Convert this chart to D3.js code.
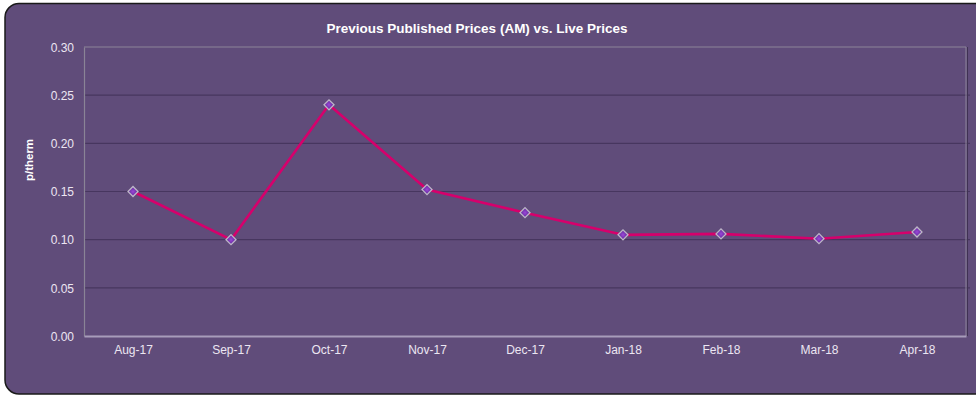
<!DOCTYPE html>
<html>
<head>
<meta charset="utf-8">
<script src="https://cdn.jsdelivr.net/npm/d3@7"></script>
<style>
  html, body { margin: 0; padding: 0; background: #ffffff; }
  svg { display: block; font-family: Arial, "Liberation Sans", sans-serif; }
</style>
</head>
<body>
<svg id="chart" width="976" height="396"></svg>
<script>
// Monthly prices in p/therm
const months = ["Aug-17", "Sep-17", "Oct-17", "Nov-17", "Dec-17", "Jan-18", "Feb-18", "Mar-18", "Apr-18"];
const prices = [0.150, 0.100, 0.240, 0.152, 0.128, 0.105, 0.106, 0.101, 0.108];
const yTicks = [0.00, 0.05, 0.10, 0.15, 0.20, 0.25, 0.30];
const title = "Previous Published Prices (AM) vs. Live Prices";
const yTitle = "p/therm";

const svg = d3.select("#chart");
const plot = { left: 84, right: 966, top: 47, bottom: 336 };

// Rounded panel behind everything (runs past the right edge)
svg.append("rect")
  .attr("x", 5).attr("y", 3.5)
  .attr("width", 990).attr("height", 390.5)
  .attr("rx", 14).attr("ry", 14)
  .attr("fill", "#604c7a")
  .attr("stroke", "#1a1a1a")
  .attr("stroke-width", 1.5);

const x = d3.scalePoint().domain(months).range([plot.left, plot.right]).padding(0.5);
const y = d3.scaleLinear().domain([0, 0.30]).range([plot.bottom, plot.top]);

// Horizontal gridlines
svg.append("g")
  .selectAll("line")
  .data(yTicks.filter(t => t > 0 && t < 0.30))
  .join("line")
  .attr("x1", plot.left).attr("x2", plot.right + 4)
  .attr("y1", d => y(d)).attr("y2", d => y(d))
  .attr("stroke", "#47365f")
  .attr("stroke-width", 1.2);

// Plot frame: top and right side
svg.append("line")
  .attr("x1", plot.left).attr("x2", plot.right)
  .attr("y1", plot.top).attr("y2", plot.top)
  .attr("stroke", "#8c8498").attr("stroke-width", 1);
svg.append("line")
  .attr("x1", plot.right).attr("x2", plot.right)
  .attr("y1", plot.top).attr("y2", plot.bottom)
  .attr("stroke", "#8c8498").attr("stroke-width", 1);
svg.append("line")
  .attr("x1", plot.right + 1.5).attr("x2", plot.right + 1.5)
  .attr("y1", plot.top).attr("y2", plot.bottom)
  .attr("stroke", "#3f3152").attr("stroke-width", 1);

// Y axis
const yAxis = svg.append("g")
  .attr("transform", `translate(${plot.left},0)`)
  .call(d3.axisLeft(y).tickValues(yTicks).tickFormat(d3.format(".2f")).tickSize(0).tickPadding(10));
yAxis.select(".domain").attr("stroke", "#8a8496").attr("stroke-width", 1.2);
yAxis.selectAll("text")
  .attr("fill", "#ece6f2")
  .style("font-size", "12px")
  .attr("dy", "0.35em");

// X axis
const xAxis = svg.append("g")
  .attr("transform", `translate(0,${plot.bottom})`)
  .call(d3.axisBottom(x).tickSize(0).tickPadding(9));
xAxis.select(".domain").attr("stroke", "#a79cba").attr("stroke-width", 2);
xAxis.selectAll("text")
  .attr("fill", "#ece6f2")
  .style("font-size", "12px");

// Title
svg.append("text")
  .attr("x", 477).attr("y", 33)
  .attr("text-anchor", "middle")
  .attr("fill", "#ffffff")
  .style("font-size", "13.5px")
  .style("font-weight", "bold")
  .text(title);

// Y axis title
svg.append("text")
  .attr("transform", `translate(33,160) rotate(-90)`)
  .attr("text-anchor", "middle")
  .attr("fill", "#ffffff")
  .style("font-size", "11.5px")
  .style("font-weight", "bold")
  .text(yTitle);

// Price line
const line = d3.line()
  .x((d, i) => x(months[i]))
  .y(d => y(d));
svg.append("path")
  .datum(prices)
  .attr("d", line)
  .attr("fill", "none")
  .attr("stroke", "#d6006c")
  .attr("stroke-width", 2.6)
  .attr("stroke-linejoin", "round");

// Diamond markers
const defs = svg.append("defs");
const grad = defs.append("radialGradient").attr("id", "mk");
grad.append("stop").attr("offset", "0%").attr("stop-color", "#9a48d8");
grad.append("stop").attr("offset", "100%").attr("stop-color", "#6f2fa8");

svg.append("g")
  .selectAll("path")
  .data(prices)
  .join("path")
  .attr("transform", (d, i) => `translate(${x(months[i])},${y(d)}) rotate(45)`)
  .attr("d", d3.symbol().type(d3.symbolSquare).size(50))
  .attr("fill", "url(#mk)")
  .attr("stroke", "#bdb6c8")
  .attr("stroke-width", 1.3);
</script>
</body>
</html>
